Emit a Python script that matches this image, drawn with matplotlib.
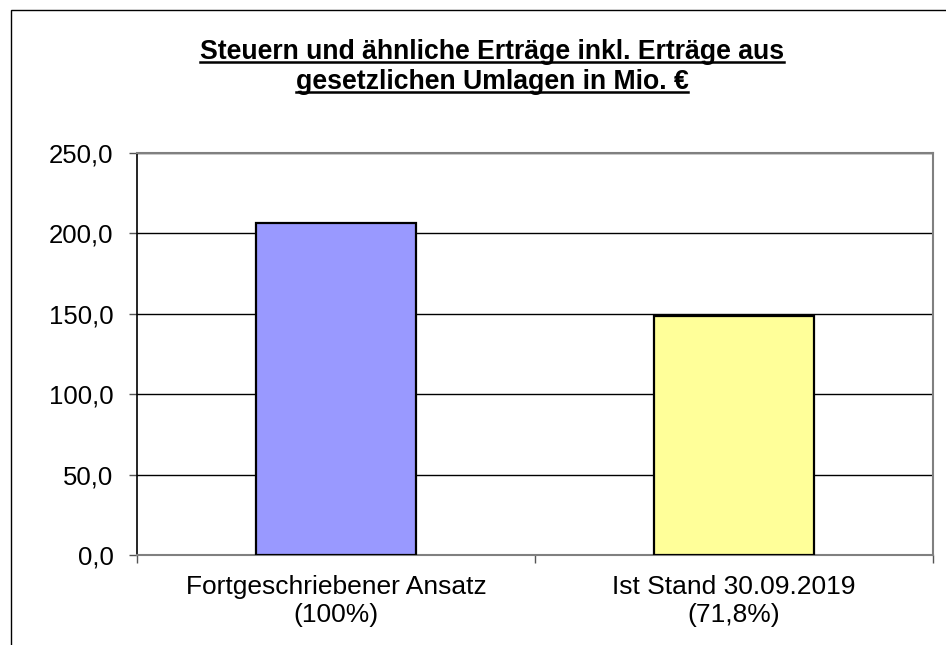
import matplotlib.pyplot as plt
from matplotlib.patches import Rectangle
from matplotlib.lines import Line2D

categories = ['Fortgeschriebener Ansatz\n(100%)', 'Ist Stand 30.09.2019\n(71,8%)']
values = [206.7, 148.4]
colors = ['#9999FF', '#FFFF99']
yticks = [0, 50, 100, 150, 200, 250]
title_lines = ['Steuern und ähnliche Erträge inkl. Erträge aus',
               'gesetzlichen Umlagen in Mio. €']

plt.rcParams['font.family'] = ['Liberation Sans', 'DejaVu Sans']

W, H = 946, 645
fig = plt.figure(figsize=(W / 100, H / 100), dpi=100)
ax = fig.add_axes([137 / W, 1 - 555 / H, (933 - 137) / W, (555 - 153) / H])

x = range(len(values))
ax.bar(x, values, width=0.4, color=colors, edgecolor='black', linewidth=1.6, zorder=3)

ax.set_xlim(-0.5, 1.5)
ax.set_ylim(0, 250)
ax.set_yticks(yticks)
ax.set_yticklabels([f'{v:.1f}'.replace('.', ',') for v in yticks])
ax.yaxis.grid(True, color='black', linewidth=1, zorder=0)
ax.tick_params(axis='y', length=6, width=1, color='#555555', pad=11, labelsize=18.5)

ax.set_xticks([-0.5, 0.5, 1.5])
ax.set_xticklabels([])
ax.set_xticks(list(x), minor=True)
ax.set_xticklabels(categories, minor=True, fontsize=19, linespacing=1.22)
ax.tick_params(axis='x', which='major', length=6, width=1, color='#555555')
ax.tick_params(axis='x', which='minor', length=0, pad=14.5)

for side in ['top', 'right', 'bottom']:
    ax.spines[side].set_color('#808080')
    ax.spines[side].set_linewidth(1.5)
ax.spines['left'].set_color('black')
ax.spines['left'].set_linewidth(1.2)

# figure frame (only left and top visible)
fig.add_artist(Rectangle((10.5 / W, -0.1), 1.2, 1 - 9.5 / H + 0.1,
                         transform=fig.transFigure, fill=False,
                         edgecolor='black', linewidth=1))

# underlined title
cx = 492 / W
baselines = [59, 89]
fig.canvas.draw()
renderer = fig.canvas.get_renderer()
for line, yb in zip(title_lines, baselines):
    t = fig.text(cx, 1 - yb / H, line, ha='center', va='baseline',
                 fontsize=19.2, fontweight='bold')
    bb = t.get_window_extent(renderer=renderer)
    yu = 1 - (yb + 3) / H
    fig.add_artist(Line2D([bb.x0 / W, bb.x1 / W], [yu, yu],
                          transform=fig.transFigure, color='black', linewidth=1.8))

fig.savefig('out.png', dpi=100)
